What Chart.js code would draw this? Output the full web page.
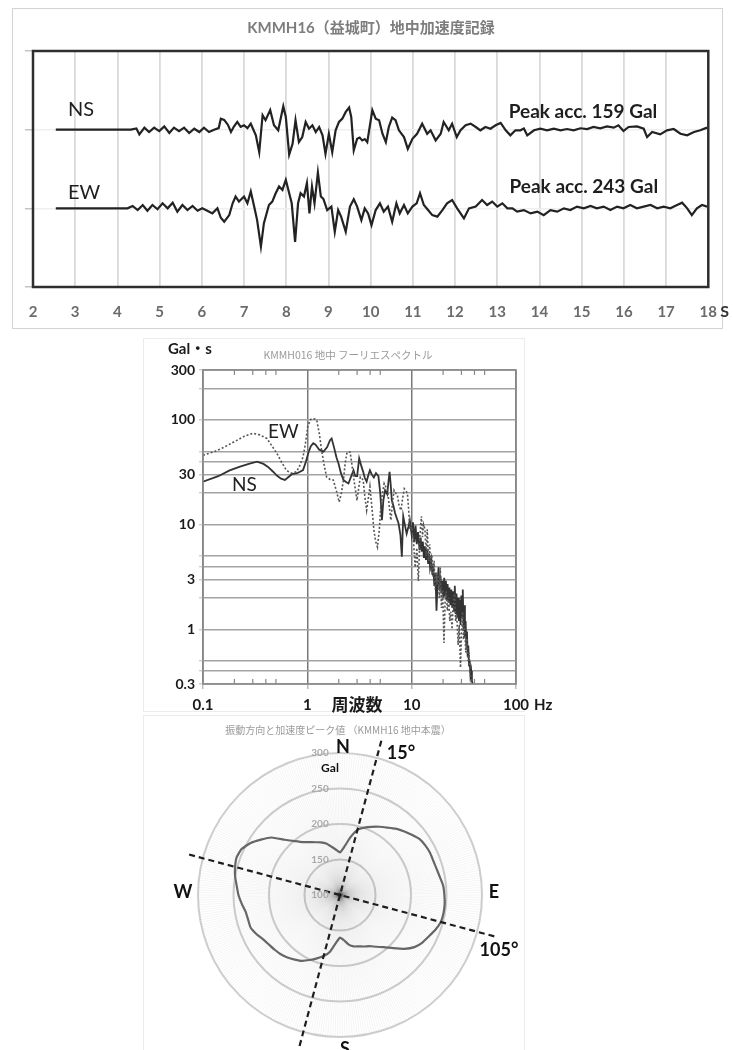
<!DOCTYPE html>
<html><head><meta charset="utf-8">
<script src="https://cdn.jsdelivr.net/npm/chart.js@4/dist/chart.umd.min.js"></script>
<style>
html,body{margin:0;padding:0;background:#fff;width:733px;height:1050px;overflow:hidden;}
.frame{position:absolute;box-sizing:border-box;}
canvas{position:absolute;}
</style></head><body>
<div class="frame" style="left:12px;top:8px;width:711px;height:321px;border:1px solid #d3d3d3"></div>
<div class="frame" style="left:143px;top:338px;width:382px;height:374px;border:1px solid #ececec"></div>
<div class="frame" style="left:143px;top:715px;width:382px;height:345px;border:1px solid #ececec"></div>
<canvas id="c1" width="733" height="330" style="left:0;top:0"></canvas>
<canvas id="c2" width="420" height="380" style="left:143px;top:338px"></canvas>
<canvas id="c3" width="382" height="335" style="left:143px;top:715px"></canvas>
<script>
// ===== Accelerogram (top) =====
const timeTickLabels = ['2','3','4','5','6','7','8','9','10','11','12','13','14','15','16','17','18'];
const traceTickVals = [-750,-250,250,750];
const NS_BASE = 250, EW_BASE = -250;
const nsTime = [2.54,4.32,4.45,4.52,4.64,4.75,4.87,4.99,5.11,5.23,5.34,5.46,5.58,5.70,5.82,5.94,6.05,6.17,6.29,6.40,6.45,6.53,6.62,6.69,6.76,6.84,6.92,7.00,7.08,7.16,7.28,7.36,7.44,7.51,7.62,7.71,7.81,7.93,7.99,8.07,8.15,8.22,8.30,8.38,8.46,8.54,8.62,8.70,8.78,8.86,8.93,9.01,9.09,9.17,9.25,9.33,9.41,9.49,9.54,9.60,9.68,9.74,9.80,9.86,9.92,10.04,10.12,10.20,10.28,10.36,10.43,10.51,10.59,10.67,10.79,10.88,10.99,11.10,11.22,11.34,11.42,11.54,11.66,11.73,11.85,11.93,12.04,12.13,12.25,12.37,12.49,12.60,12.72,12.84,12.96,13.08,13.20,13.31,13.43,13.55,13.63,13.71,13.87,14.02,14.18,14.34,14.50,14.65,14.81,14.97,15.13,15.28,15.44,15.60,15.76,15.87,15.99,16.11,16.31,16.47,16.55,16.67,16.86,17.02,17.18,17.34,17.50,17.66,17.81,17.97];
const nsAcc = [0,0,8,-30,13,-15,13,-9,21,-21,13,-9,13,-21,6,-15,13,-15,0,10,70,62,30,-15,20,49,18,28,10,38,-36,-143,92,60,124,28,-4,149,81,-159,-90,60,-79,-47,49,6,28,-15,17,-36,-154,-26,-143,-4,49,70,113,141,81,-132,-58,-50,-68,-60,-79,124,70,60,-26,-79,17,77,60,-4,-47,-122,-58,-26,38,-26,-4,-68,-26,49,-4,38,-47,-4,28,38,17,-4,17,6,28,43,-4,-36,-4,-4,8,-36,-4,6,-4,6,-4,4,-4,9,4,17,9,21,13,28,-9,17,21,6,-47,-15,-30,-4,4,-26,-36,-15,-4,13];
const ewTime = [2.54,4.24,4.36,4.48,4.60,4.71,4.83,4.95,5.07,5.19,5.31,5.42,5.54,5.66,5.78,5.90,6.01,6.13,6.25,6.37,6.45,6.53,6.65,6.73,6.80,6.88,7.00,7.08,7.16,7.24,7.31,7.40,7.47,7.59,7.67,7.75,7.83,7.91,7.99,8.07,8.13,8.21,8.28,8.34,8.42,8.49,8.55,8.61,8.67,8.75,8.82,8.88,8.97,9.07,9.15,9.23,9.30,9.41,9.51,9.60,9.68,9.78,9.86,9.94,10.02,10.12,10.22,10.31,10.41,10.51,10.61,10.69,10.79,10.88,10.99,11.09,11.17,11.26,11.36,11.46,11.58,11.70,11.81,11.93,12.05,12.21,12.33,12.49,12.64,12.76,12.88,13.00,13.12,13.24,13.36,13.47,13.63,13.79,13.95,14.10,14.26,14.42,14.58,14.73,14.89,15.05,15.21,15.36,15.52,15.68,15.84,15.99,16.15,16.31,16.47,16.63,16.79,16.94,17.10,17.26,17.38,17.50,17.61,17.73,17.85,17.97];
const ewAcc = [0,0,15,-11,21,-15,21,-6,32,0,36,-21,21,-11,15,-15,0,-15,-32,0,-60,-85,-43,32,75,43,75,32,107,11,-75,-243,-96,21,43,96,139,117,181,96,32,-213,32,96,75,160,-32,139,32,228,75,60,-11,11,-149,-11,-53,-149,11,58,11,-75,0,-32,-107,-11,32,-21,11,-85,32,-32,21,-32,11,32,96,21,-11,-43,-53,-11,32,53,0,-64,0,11,53,21,43,11,32,0,0,-21,-11,-32,-21,-43,-11,-21,0,-11,11,0,15,0,11,-11,11,0,21,0,11,21,0,11,0,21,36,0,-43,0,21,11];

// ===== Fourier spectrum (middle) =====
const nsFreq = [0.1,0.14,0.18,0.23,0.28,0.33,0.38,0.42,0.47,0.51,0.56,0.61,0.66,0.71,0.8,0.91,0.97,1.02,1.08,1.14,1.2,1.3,1.43,1.55,1.65,1.71,1.8,1.9,1.99,2.1,2.22,2.35,2.48,2.6,2.77,2.88,3.0,3.14,3.3,3.43,3.55,3.7,3.85,3.98,4.15,4.34,4.55,4.8,5.0,5.19,5.35,5.56,5.83,6.0,6.14,6.3,6.45,6.7,6.93,7.2,7.48,7.8,8.05,8.3,8.6,8.95,9.3,9.6,10.0,10.3,10.6,10.9,11.2,11.5,11.9,12.2,12.5,12.8,13.1,13.4,13.7,14.0,14.4,14.7,15.0,15.4,15.8,16.1,16.5,16.9,17.3,17.7,18.1,18.5,18.9,19.3,19.7,20.1,20.5,20.9,21.3,21.7,22.1,22.6,23.0,23.5,24.0,24.5,25.0,25.5,25.9,26.4,26.9,27.4,27.9,28.4,28.9,29.4,29.9,30.4,30.9,31.4,31.9,32.4,32.9,33.4,33.9,34.4,34.9,35.5,36.0,36.6,37.2,37.8,38.5];
const nsAmp = [25.7,29,33,36,38.3,40,38,35.6,32,29.4,27.5,26.7,28.5,30.3,31,33.2,40,48,56,60,58,52,49.9,55,64,66.5,55,44,38.3,31,26.7,25.5,24.7,28,33,29,29,43,36,31.9,28,25.7,30,33,30,28.2,31,29,20,11,17,21.3,19.5,26,32,24,17.1,15,12.9,11.5,10.3,8,4.93,12,10,8.2,9.5,11,8,10.5,6.8,9.8,6.5,8.5,5.7,7.5,5.5,6.9,4.8,6.2,4.6,5.8,4.2,5.3,3.9,4.6,3.3,4.0,2.6,3.4,1.5,2.8,3.9,2.4,3.2,2.2,2.9,2.0,3.1,2.1,2.9,1.9,2.7,1.8,2.5,1.7,2.4,1.6,2.3,1.5,2.6,1.4,2.2,1.3,2.0,1.2,1.9,1.1,2.1,1.3,2.4,1.0,1.7,0.85,1.2,0.7,0.95,0.55,0.7,0.45,0.5,0.36,0.4,0.32,0.3];
const ewFreq = [0.1,0.13,0.16,0.2,0.25,0.3,0.35,0.41,0.46,0.51,0.57,0.63,0.7,0.79,0.85,0.91,0.96,1.01,1.07,1.1,1.18,1.23,1.3,1.37,1.45,1.53,1.65,1.77,1.9,2.02,2.12,2.22,2.3,2.39,2.48,2.57,2.67,2.77,2.88,2.99,3.1,3.22,3.43,3.55,3.7,3.85,3.98,4.15,4.34,4.5,4.7,4.9,5.06,5.25,5.45,5.65,5.87,6.1,6.32,6.55,6.78,7.05,7.3,7.6,7.9,8.2,8.5,8.8,9.1,9.35,9.6,10.0,10.4,10.8,11.2,11.6,12.0,12.4,12.7,13.0,13.4,13.8,14.1,14.5,14.9,15.2,15.6,16.0,16.4,16.8,17.2,17.6,18.0,18.4,18.8,19.3,19.8,20.4,20.9,21.4,22.0,22.6,23.2,23.8,24.4,25.0,25.8,26.4,27.0,27.9,28.6,29.4,30.0,30.7,31.4,32.2,33.0,33.8,34.6,35.4,36.3,37.0,37.8];
const ewAmp = [46,50,55,62,70,74.5,72,66.5,56,47.9,39,33,31,32,37,44.4,60,86.6,100,103,102,100,75,51.5,37,28.5,27,26.7,21,16.4,20,26.7,38,47.9,50,49,38,28.5,22,17,22,28.5,26.7,19,13.7,18,23.1,15,9,7,6.1,9,14.9,20,24.7,23,21.3,15,11,16,21.3,20,19,15,13.7,18,22,21,20,14,9,9.6,7,3.9,6,2.9,8,12,7.6,10,9,5,9,4.5,6.5,3.6,5.1,3.2,4.5,2.4,3.5,2.7,3.3,2.0,3.9,1.6,2.4,0.74,1.8,2.3,1.5,2.0,1.2,1.47,1.0,1.8,2.19,1.2,1.4,0.71,1.1,0.43,0.9,1.47,0.8,1.1,0.6,0.82,0.5,0.6,0.39,0.34,0.31];
const specYGrid = [0.3,0.4,0.5,1,2,3,4,5,10,20,30,40,50,100,200,300];
const specYLabels = [0.3,1,3,10,30,100,300];
const specXTicks = [0.1,1,10,100];
const specXTickText = ['0.1','1','10','100'];
const specXMinor = [0.2,0.3,0.4,0.5,2,3,4,5,20,30,40,50];

// ===== Direction vs peak acceleration (bottom) =====
const peakDirDeg = [0,5,10,15,20,25,30,35,40,45,50,55,60,65,70,75,80,85,90,95,100,105,110,115,120,125,130,135,140,145,150,155,160,165,170,175,180,185,190,195,200,205,210,215,220,225,230,235,240,245,250,255,260,265,270,275,280,285,290,295,300,305,310,315,320,325,330,335,340,345,350,355];
const peakAccGal = [160,168,182,195,201,206,211,216,222,227,232,237,239,240,240,241,243,246,247,248,248,247,243,238,234,228,218,206,196,189,183,180,177,175,171,164,160,168,181,189,195,201,207,211,215,218,220,222,225,230,234,234,235,239,243,246,250,253,255,253,246,236,226,210,199,191,186,182,179,175,169,164];
const principalDirDeg = [15,105];
const polarRingTicks = [100,150,200,250,300];

const FONT = "Lato, 'Noto Sans CJK JP', sans-serif";
const JFONT = "'Noto Sans CJK JP', Lato, sans-serif";
Chart.defaults.font.family = FONT;

// ---------- top chart ----------
const topDeco = {
  id: 'topDeco',
  afterDatasetsDraw(chart) {
    const {ctx, chartArea: a, scales: {x, y}} = chart;
    ctx.save();
    ctx.strokeStyle = '#2e2e2e'; ctx.lineWidth = 2.5;
    ctx.strokeRect(a.left, a.top, a.right - a.left, a.bottom - a.top);
    ctx.textBaseline = 'middle';
    ctx.fillStyle = '#7d7d7d'; ctx.font = "bold 15px " + FONT; ctx.textAlign = 'center';
    ctx.fillText('KMMH16（益城町）地中加速度記録', 371, 28);
    ctx.textAlign = 'left'; ctx.fillStyle = '#1e1e1e';
    ctx.font = "20px " + FONT;
    ctx.fillText('NS', x.getPixelForValue(2.83), y.getPixelForValue(375));
    ctx.fillText('EW', x.getPixelForValue(2.83), y.getPixelForValue(-152));
    ctx.font = "bold 19px " + FONT;
    ctx.fillText('Peak acc. 159 Gal', x.getPixelForValue(13.27), y.getPixelForValue(362));
    ctx.fillText('Peak acc. 243 Gal', x.getPixelForValue(13.29), y.getPixelForValue(-114));
    ctx.font = "bold 16px " + FONT; ctx.fillStyle = '#333';
    ctx.fillText('S', x.getPixelForValue(18) + 12, a.bottom + 25);
    ctx.restore();
  }
};
new Chart(document.getElementById('c1'), {
  type: 'line',
  data: { datasets: [
    { data: nsTime.map((t, i) => ({x: t, y: nsAcc[i] + NS_BASE})), borderColor: '#222', borderWidth: 2.2, pointRadius: 0, tension: 0 },
    { data: ewTime.map((t, i) => ({x: t, y: ewAcc[i] + EW_BASE})), borderColor: '#222', borderWidth: 2.2, pointRadius: 0, tension: 0 }
  ]},
  options: {
    responsive: false, animation: false, events: [],
    layout: {padding: {left: 0, top: 51, right: 24, bottom: 0}},
    plugins: {legend: {display: false}, tooltip: {enabled: false}},
    scales: {
      x: { type: 'linear', min: 2, max: 18,
        afterBuildTicks: s => { s.ticks = timeTickLabels.map(v => ({value: +v})); },
        ticks: {color: '#6b6b6b', font: {size: 15, weight: 'bold'}, padding: 16, maxRotation: 0, autoSkip: false, callback: v => String(v)},
        grid: {color: '#dadada', lineWidth: 1.8, drawTicks: false}, border: {display: false},
        afterFit: s => { s.height = 43; } },
      y: { type: 'linear', min: -750, max: 750,
        afterBuildTicks: s => { s.ticks = traceTickVals.map(v => ({value: v})); },
        ticks: {callback: () => '', padding: 0},
        grid: {color: '#efefef', lineWidth: 1.5, tickColor: '#c4c4c4', tickLength: 8}, border: {display: false},
        afterFit: s => { s.width = 33; } }
    }
  },
  plugins: [topDeco]
});

// ---------- middle chart ----------
const specDeco = {
  id: 'specDeco',
  afterDatasetsDraw(chart) {
    const {ctx, chartArea: a, scales: {x, y}} = chart;
    ctx.save();
    ctx.strokeStyle = '#8a8a8a'; ctx.lineWidth = 1.6;
    ctx.strokeRect(a.left, a.top, a.right - a.left, a.bottom - a.top);
    ctx.strokeStyle = '#888'; ctx.lineWidth = 1.2;
    specXMinor.forEach(v => {
      const px = x.getPixelForValue(v);
      ctx.beginPath(); ctx.moveTo(px, a.top); ctx.lineTo(px, a.top + 5);
      ctx.moveTo(px, a.bottom); ctx.lineTo(px, a.bottom - 5); ctx.stroke();
    });
    ctx.textBaseline = 'middle';
    ctx.textAlign = 'center'; ctx.fillStyle = '#9a9a9a'; ctx.font = "10.5px " + JFONT;
    ctx.fillText('KMMH016 地中 フーリエスペクトル', 205, 17);
    ctx.textAlign = 'left'; ctx.fillStyle = '#1a1a1a'; ctx.font = "bold 15px " + FONT;
    ctx.fillText('Gal・s', a.left - 35, a.top - 21);
    ctx.fillText('Hz', x.getPixelForValue(100) + 18, a.bottom + 21);
    ctx.textAlign = 'center'; ctx.font = "bold 17px " + JFONT;
    ctx.fillText('周波数', x.getPixelForValue(3), a.bottom + 21);
    ctx.textAlign = 'left'; ctx.font = "19px " + FONT; ctx.fillStyle = '#222';
    ctx.fillText('EW', x.getPixelForValue(0.42), y.getPixelForValue(77));
    ctx.fillText('NS', x.getPixelForValue(0.19), y.getPixelForValue(23.8));
    ctx.restore();
  }
};
new Chart(document.getElementById('c2'), {
  type: 'line',
  data: { datasets: [
    { data: ewFreq.map((f, i) => ({x: f, y: ewAmp[i]})), borderColor: '#555', borderWidth: 1.6, borderDash: [2, 2], pointRadius: 0, tension: 0 },
    { data: nsFreq.map((f, i) => ({x: f, y: nsAmp[i]})), borderColor: '#333', borderWidth: 1.8, pointRadius: 0, tension: 0 }
  ]},
  options: {
    responsive: false, animation: false, events: [],
    layout: {padding: {left: 0, top: 32, right: 47, bottom: 0}},
    plugins: {legend: {display: false}, tooltip: {enabled: false}},
    scales: {
      x: { type: 'logarithmic', min: 0.1, max: 100,
        afterBuildTicks: s => { s.ticks = specXTicks.map(v => ({value: v})); },
        ticks: {color: '#1a1a1a', font: {size: 15, weight: 'bold'}, padding: 7, maxRotation: 0, autoSkip: false,
          callback: (v, i) => specXTickText[i]},
        grid: {color: '#787878', lineWidth: 1.5, tickLength: 5, tickColor: '#bbb'}, border: {display: false},
        afterFit: s => { s.height = 34; } },
      y: { type: 'logarithmic', min: 0.3, max: 300,
        afterBuildTicks: s => { s.ticks = specYGrid.map(v => ({value: v})); },
        ticks: {color: '#1a1a1a', font: {size: 14, weight: 'bold'}, padding: 4, autoSkip: false,
          callback: v => specYLabels.includes(v) ? String(v) : ''},
        grid: {color: '#a3a3a3', lineWidth: 1.4, tickLength: 4, tickColor: '#ccc'}, border: {display: false},
        afterFit: s => { s.width = 60; } }
    }
  },
  plugins: [specDeco]
});

// ---------- polar chart ----------
const AXIS_EXT = 325;
const dirLabels = Array.from({length: 360}, (_, i) => i);
const polarData = new Array(360).fill(null);
peakDirDeg.forEach((d, i) => { polarData[d] = peakAccGal[i]; });
const polarDeco = {
  id: 'polarDeco',
  afterDatasetsDraw(chart) {
    const {ctx} = chart;
    const r = chart.scales.r;
    const cx = r.xCenter, cy = r.yCenter;
    ctx.save();
    ctx.strokeStyle = '#1e1e1e'; ctx.lineWidth = 2.2; ctx.setLineDash([6, 4]);
    principalDirDeg.forEach(d => {
      const p1 = r.getPointPositionForValue(d, AXIS_EXT);
      const p2 = r.getPointPositionForValue(d + 180, AXIS_EXT);
      ctx.beginPath(); ctx.moveTo(p1.x, p1.y); ctx.lineTo(p2.x, p2.y); ctx.stroke();
    });
    ctx.setLineDash([]);
    ctx.textBaseline = 'middle'; ctx.textAlign = 'center';
    ctx.fillStyle = '#a8a8a8'; ctx.font = "bold 10px " + FONT;
    polarRingTicks.forEach(v => {
      ctx.fillText(String(v), cx - 20, cy - r.getDistanceFromCenterForValue(v));
    });
    ctx.fillStyle = '#9a9a9a'; ctx.font = "10px " + JFONT;
    ctx.fillText('振動方向と加速度ピーク値 （KMMH16 地中本震）', 195, 15);
    ctx.fillStyle = '#111'; ctx.font = "bold 18px " + FONT;
    ctx.fillText('N', cx + 3, cy - 148);
    ctx.fillText('E', cx + 154, cy - 3);
    ctx.fillText('W', cx - 157, cy - 3);
    ctx.fillText('S', cx + 5, cy + 154);
    ctx.fillText('15°', cx + 61, cy - 142);
    ctx.fillText('105°', cx + 159, cy + 55);
    ctx.font = "bold 12px " + FONT;
    ctx.fillText('Gal', cx - 10, cy - 127);
    ctx.restore();
  }
};
new Chart(document.getElementById('c3'), {
  type: 'radar',
  data: { labels: dirLabels, datasets: [
    { data: polarData, spanGaps: true, borderColor: '#666', borderWidth: 2.2, pointRadius: 0, fill: false, tension: 0.15, clip: false }
  ]},
  options: {
    responsive: false, animation: false, events: [],
    layout: {padding: {left: 55, right: 43, top: 38, bottom: 13}},
    plugins: {legend: {display: false}, tooltip: {enabled: false}},
    scales: { r: { min: 100, max: 300, startAngle: 0,
      afterBuildTicks: s => { s.ticks = polarRingTicks.map(v => ({value: v})); },
      ticks: {display: false, stepSize: 50},
      grid: {circular: true, color: '#cfcfcf', lineWidth: 2},
      angleLines: {display: true, color: 'rgba(0,0,0,0.045)', lineWidth: 1},
      pointLabels: {display: false} } }
  },
  plugins: [polarDeco]
});
</script>
</body></html>
